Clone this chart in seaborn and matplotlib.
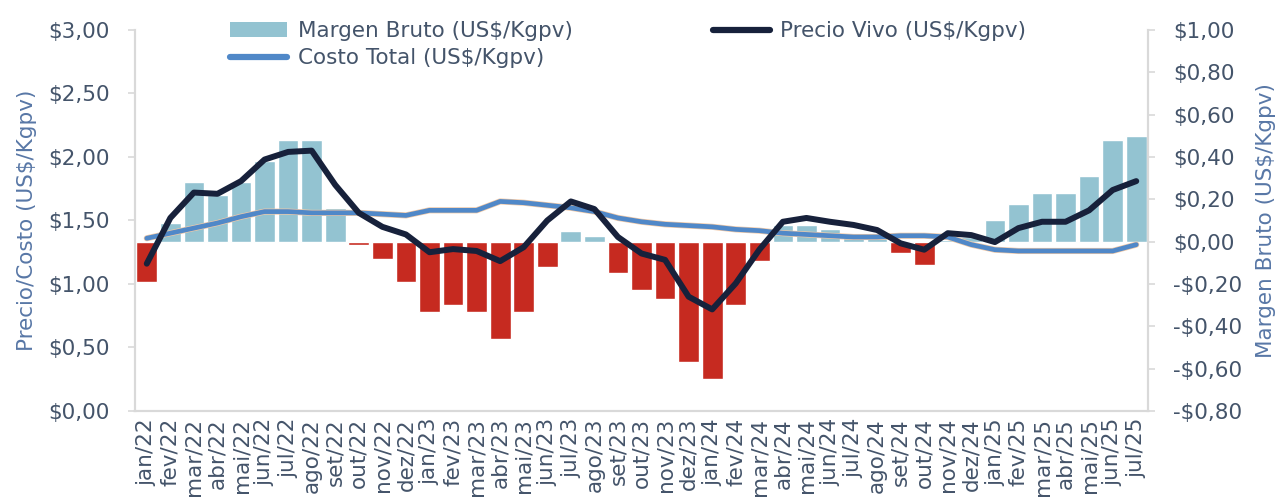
import numpy as np
import pandas as pd
import matplotlib
matplotlib.use("Agg")
import matplotlib.pyplot as plt
import matplotlib.patheffects as pe
from matplotlib.patches import Patch
from matplotlib.lines import Line2D
from matplotlib.ticker import FuncFormatter
import seaborn as sns

# Datos (US$/Kgpv)
meses = ["jan/22", "fev/22", "mar/22", "abr/22", "mai/22", "jun/22", "jul/22", "ago/22",
         "set/22", "out/22", "nov/22", "dez/22",
         "jan/23", "fev/23", "mar/23", "abr/23", "mai/23", "jun/23", "jul/23", "ago/23",
         "set/23", "out/23", "nov/23", "dez/23",
         "jan/24", "fev/24", "mar/24", "abr/24", "mai/24", "jun/24", "jul/24", "ago/24",
         "set/24", "out/24", "nov/24", "dez/24",
         "jan/25", "fev/25", "mar/25", "abr/25", "mai/25", "jun/25", "jul/25"]

margen = [-0.19, 0.09, 0.28, 0.22, 0.28, 0.38, 0.48, 0.48, 0.16, -0.015, -0.08, -0.19,
          -0.33, -0.30, -0.33, -0.46, -0.33, -0.12, 0.05, 0.025, -0.15, -0.23, -0.27, -0.57,
          -0.65, -0.30, -0.09, 0.08, 0.08, 0.06, 0.04, 0.02, -0.055, -0.11, 0.01, 0.02,
          0.10, 0.18, 0.23, 0.23, 0.31, 0.48, 0.50]

precio = [1.16, 1.52, 1.72, 1.71, 1.81, 1.98, 2.04, 2.05, 1.78, 1.56, 1.45, 1.39,
          1.25, 1.275, 1.26, 1.18, 1.29, 1.50, 1.65, 1.59, 1.37, 1.24, 1.19, 0.90,
          0.80, 1.005, 1.27, 1.49, 1.52, 1.49, 1.465, 1.425, 1.32, 1.27, 1.40, 1.385,
          1.33, 1.44, 1.49, 1.49, 1.58, 1.74, 1.81]

costo = [1.36, 1.40, 1.44, 1.48, 1.53, 1.57, 1.57, 1.56, 1.56, 1.56, 1.55, 1.54,
         1.58, 1.58, 1.58, 1.65, 1.64, 1.62, 1.60, 1.57, 1.52, 1.49, 1.47, 1.46,
         1.45, 1.43, 1.42, 1.40, 1.39, 1.38, 1.37, 1.37, 1.38, 1.38, 1.37, 1.31,
         1.27, 1.26, 1.26, 1.26, 1.26, 1.26, 1.31]

# Colores
AZUL_CLARO = "#93C3D1"
ROJO = "#C62A20"
NAVY = "#17213B"
AZUL = "#5088C8"
TEXTO = "#44546A"
ETIQUETA = "#5877A6"
GRIS = "#D9D9D9"
FS = 15.5

sns.set_style("white")
plt.rcParams["font.family"] = ["DejaVu Sans"]

df = pd.DataFrame({"mes": meses, "margen": margen, "precio": precio, "costo": costo})
df["signo"] = np.where(df["margen"] >= 0, "pos", "neg")
df["pos"] = np.arange(len(df))

fig = plt.figure(figsize=(12.82, 5.03), dpi=100)
ax = fig.add_axes([0.1053, 0.1829, 0.7902, 0.7575])

# Barras del margen (eje derecho)
sns.barplot(data=df, x="mes", y="margen", hue="signo", order=meses,
            palette={"pos": AZUL_CLARO, "neg": ROJO}, dodge=False,
            width=0.88, legend=False, ax=ax, saturation=1)
ax.set_ylim(-0.8, 1.0)
ax.set_yticks(np.arange(-0.8, 1.01, 0.2))
ax.set_xlim(-0.5, len(meses) - 0.5)

# Lineas de precio y costo (eje izquierdo)
ax2 = ax.twinx()
sns.lineplot(data=df, x="pos", y="costo", ax=ax2, color=AZUL, linewidth=3.4,
             solid_joinstyle="round", solid_capstyle="round",
             path_effects=[pe.Stroke(linewidth=4.4, foreground="#F2C9A6"), pe.Normal()])
sns.lineplot(data=df, x="pos", y="precio", ax=ax2, color=NAVY, linewidth=4.3,
             solid_joinstyle="round", solid_capstyle="round")
ax2.set_ylim(0, 3.0)
ax2.set_yticks(np.arange(0, 3.01, 0.5))
ax2.set_xlim(-0.5, len(meses) - 0.5)

# twinx deja el eje original a la izquierda: se invierte
ax.yaxis.tick_right()
ax.yaxis.set_label_position("right")
ax2.yaxis.tick_left()
ax2.yaxis.set_label_position("left")

fmt = lambda v, p: ("-$" if v < -1e-9 else "$") + f"{abs(v):.2f}".replace(".", ",")
ax.yaxis.set_major_formatter(FuncFormatter(fmt))
ax2.yaxis.set_major_formatter(FuncFormatter(fmt))

# Ejes y ticks
ax.set_xticks(np.arange(len(meses)))
ax.set_xticklabels(meses, rotation=90)
ax.set_xticks(np.arange(-0.5, len(meses)), minor=True)
ax.tick_params(axis="x", which="major", length=0, pad=5, labelsize=FS, labelcolor=TEXTO)
ax.tick_params(axis="x", which="minor", length=5, width=1.2, color=GRIS)
ax.tick_params(axis="y", length=5, width=1.2, color=GRIS, pad=13, labelsize=FS, labelcolor=TEXTO)
ax2.tick_params(axis="y", length=5, width=1.2, color=GRIS, pad=13, labelsize=FS, labelcolor=TEXTO)
ax.set_xlabel("")

for a in (ax, ax2):
    for s in a.spines.values():
        s.set_color(GRIS)
        s.set_linewidth(1.5)
    a.spines["top"].set_visible(False)

ax.set_ylabel("Margen Bruto (US$/Kgpv)", color=ETIQUETA, fontsize=FS, labelpad=10)
ax2.set_ylabel("Precio/Costo (US$/Kgpv)", color=ETIQUETA, fontsize=FS, labelpad=8)

# Leyenda
handles = [Patch(facecolor=AZUL_CLARO, edgecolor="none"),
           Line2D([0], [0], color=AZUL, linewidth=4.5, solid_capstyle="round"),
           Line2D([0], [0], color=NAVY, linewidth=4.5, solid_capstyle="round")]
labels = ["Margen Bruto (US$/Kgpv)", "Costo Total (US$/Kgpv)", "Precio Vivo (US$/Kgpv)"]
fig.legend(handles, labels, loc="upper left", bbox_to_anchor=(0.166, 0.992), ncol=2,
           frameon=False, fontsize=FS, labelcolor=TEXTO, handlelength=2.65,
           handleheight=0.7, handletextpad=0.5, columnspacing=6.5, labelspacing=0.33,
           borderpad=0.3)

fig.savefig("out.png", dpi=100)
